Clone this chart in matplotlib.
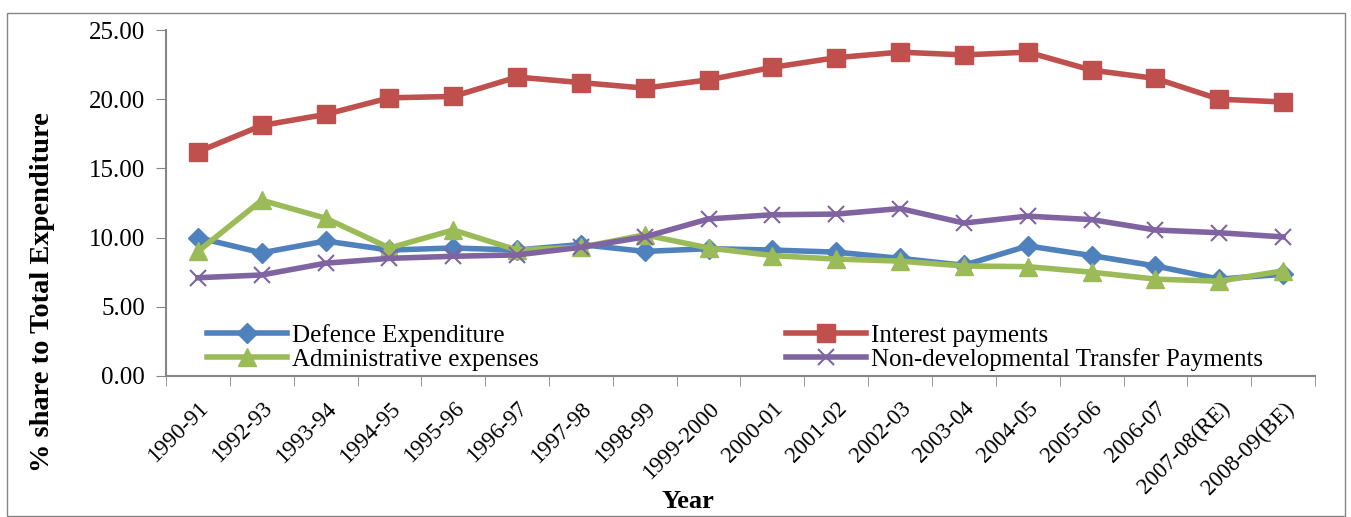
import numpy as np
import matplotlib.pyplot as plt
from matplotlib.patches import Rectangle

years = ['1990-91', '1992-93', '1993-94', '1994-95', '1995-96', '1996-97', '1997-98',
         '1998-99', '1999-2000', '2000-01', '2001-02', '2002-03', '2003-04', '2004-05',
         '2005-06', '2006-07', '2007-08(RE)', '2008-09(BE)']
defence = [10.0, 8.9, 9.75, 9.1, 9.25, 9.1, 9.5, 9.0, 9.2, 9.1, 8.95, 8.5, 8.0, 9.4,
           8.7, 7.95, 7.0, 7.35]
interest = [16.2, 18.1, 18.9, 20.1, 20.2, 21.6, 21.2, 20.8, 21.4, 22.3, 23.0, 23.4,
            23.2, 23.4, 22.1, 21.5, 20.0, 19.8]
admin = [9.0, 12.7, 11.4, 9.25, 10.55, 9.1, 9.3, 10.2, 9.25, 8.7, 8.45, 8.3, 7.95,
         7.9, 7.5, 7.0, 6.85, 7.6]
nondev = [7.1, 7.3, 8.15, 8.5, 8.65, 8.75, 9.3, 10.05, 11.35, 11.65, 11.7, 12.1,
          11.05, 11.55, 11.3, 10.55, 10.35, 10.05]

plt.rcParams['font.family'] = ['Liberation Serif']

fig = plt.figure(figsize=(13.51, 5.17), dpi=100)
ax = fig.add_axes([166/1351, 1-376/517, 1149/1351, 346/517])

x = np.arange(len(years))
ax.plot(x, defence, color='#4F81BD', lw=4, marker='D', ms=10, label='Defence Expenditure')
ax.plot(x, interest, color='#C0504D', lw=4, marker='s', ms=13, label='Interest payments')
ax.plot(x, admin, color='#9BBB59', lw=4, marker='^', ms=13, label='Administrative expenses')
ax.plot(x, nondev, color='#8064A2', lw=4, marker='x', ms=12, mew=1.5,
        label='Non-developmental Transfer Payments')

ax.set_xlim(-0.5, len(years) - 0.5)
ax.set_ylim(0, 25)
ax.set_yticks(np.arange(0, 26, 5))
ax.set_yticklabels(['%.2f' % v for v in np.arange(0, 26, 5)], fontsize=18)
ax.set_xticks(x)
ax.set_xticklabels(years, rotation=45, ha='right', rotation_mode='anchor', fontsize=16.5)
ax.tick_params(axis='x', length=0, pad=16)
ax.set_xticks(np.arange(-0.5, len(years)), minor=True)
ax.tick_params(axis='x', which='minor', length=7, color='#868686', direction='out')
ax.tick_params(axis='y', length=7, color='#868686', direction='out', pad=8)

for s in ['top', 'right']:
    ax.spines[s].set_visible(False)
for s in ['left', 'bottom']:
    ax.spines[s].set_color('#868686')
    ax.spines[s].set_linewidth(1.5)

ax.set_ylabel('% share to Total Expenditure', fontsize=20.5, fontweight='bold')
ax.yaxis.set_label_coords(-0.097, 0.243)
ax.set_xlabel('Year', fontsize=19, fontweight='bold')
ax.xaxis.set_label_coords(0.454, -0.33)

h, l = ax.get_legend_handles_labels()
order = [0, 2, 1, 3]
ax.legend([h[i] for i in order], [l[i] for i in order], ncol=2, frameon=False,
          fontsize=18, loc='lower left', bbox_to_anchor=(0.027, -0.015),
          columnspacing=9.9, handlelength=3.2, handletextpad=0.2, labelspacing=0.05,
          borderaxespad=0)

fig.patches.append(Rectangle((7/1351, 0.002), 1338/1351, 1-14/517, transform=fig.transFigure,
                             fill=False, edgecolor='#868686', lw=1))

fig.savefig('out.png', dpi=100)
